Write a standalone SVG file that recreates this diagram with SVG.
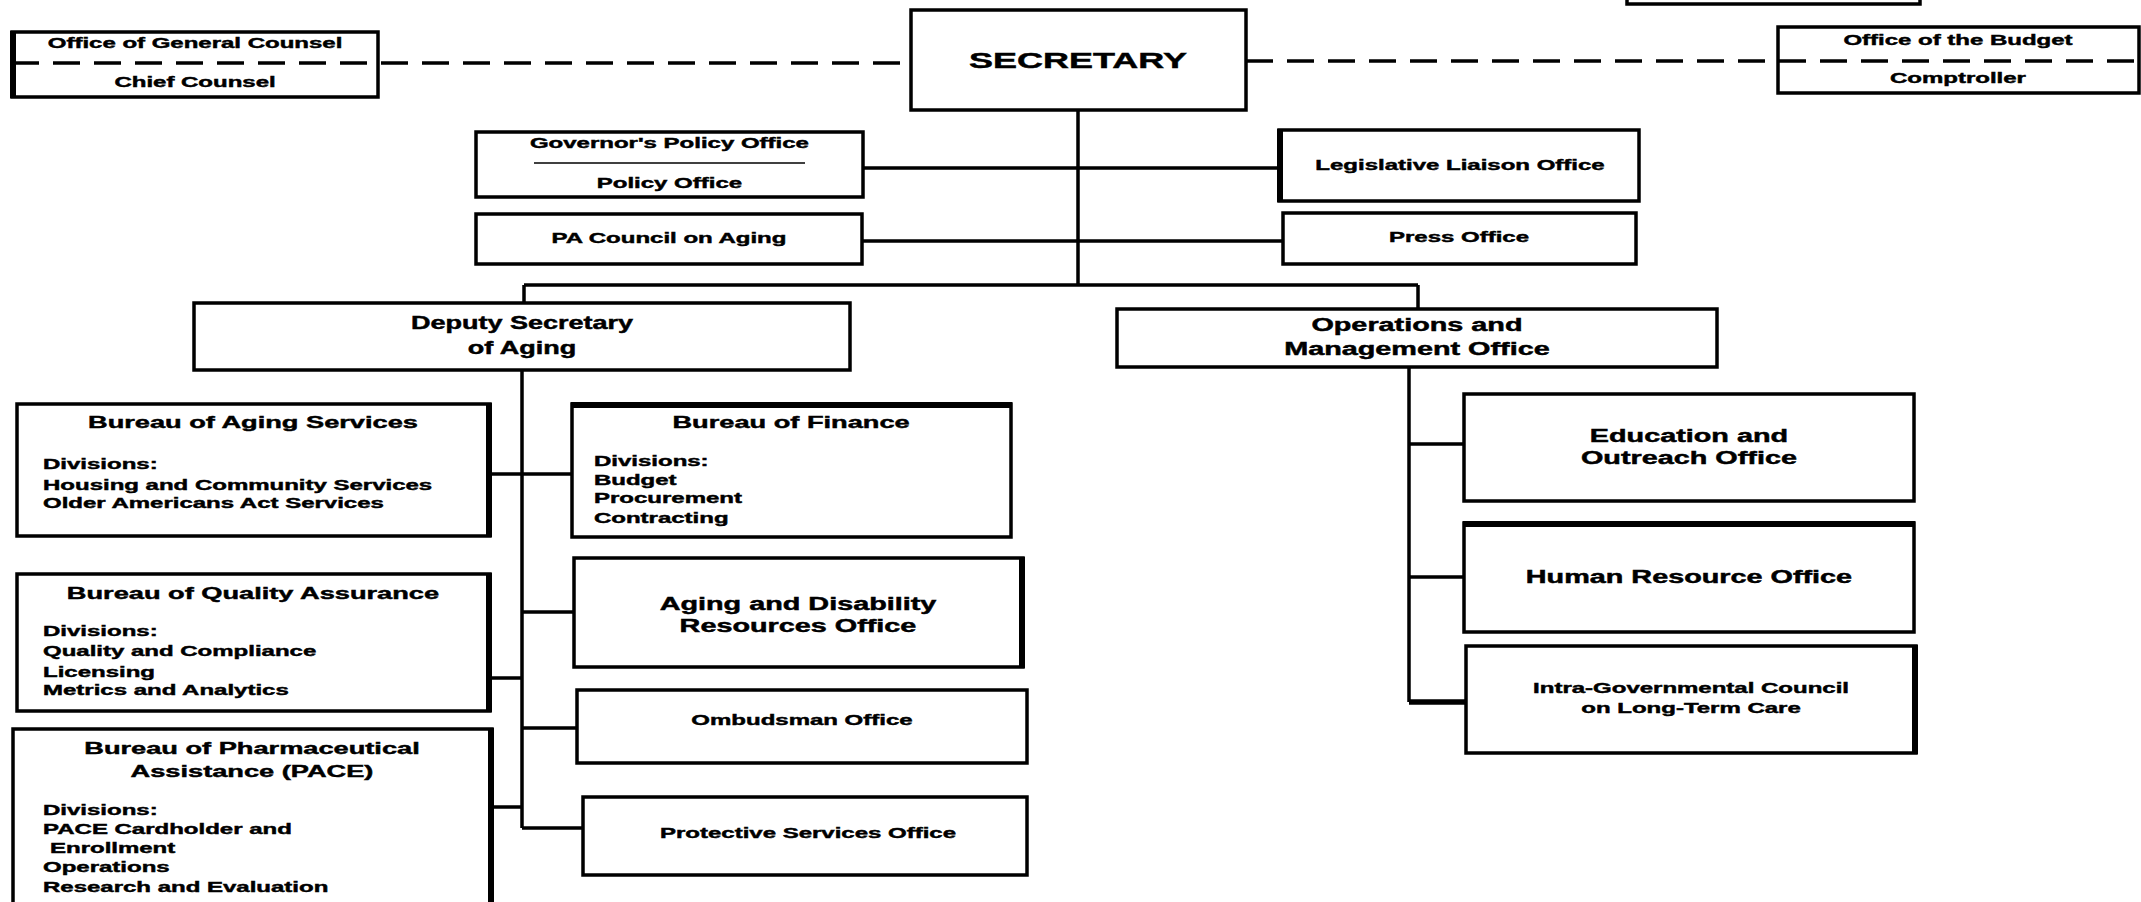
<svg xmlns="http://www.w3.org/2000/svg" width="2141" height="902" viewBox="0 0 2141 902">
<style>
.bx{fill:#fff;stroke:#000;stroke-width:3.5}
.th{fill:none;stroke:#000;stroke-width:6}
.ln{fill:none;stroke:#000;stroke-width:3.5}
.dl{fill:none;stroke:#000;stroke-width:3.5;stroke-dasharray:27 14}
text{font-family:"Liberation Sans",Arial,sans-serif;font-weight:bold;fill:#000;stroke:#000;stroke-width:0.45}
.s{font-size:15px}
.m{font-size:17px}
.l{font-size:18px}
.c{text-anchor:middle}
</style>
<rect width="2141" height="902" fill="#fff"/>
<g id="top-box"><rect class="bx" x="1627" y="-10" width="293" height="14"/></g>
<g id="general-counsel">
<rect class="bx" x="12" y="32" width="366" height="65"/>
<path class="th" d="M13 31 V98"/>
<text class="s c" transform="scale(1.6 1)" x="121.9" y="48">Office of General Counsel</text>
<text class="s c" transform="scale(1.6 1)" x="121.9" y="87">Chief Counsel</text>
</g>
<g id="secretary">
<rect class="bx" x="911" y="10" width="335" height="100"/>
<text class="c" style="font-size:22.5px" transform="scale(1.6 1)" x="673.75" y="68">SECRETARY</text>
</g>
<g id="budget">
<rect class="bx" x="1778" y="27" width="361" height="66"/>
<text class="s c" transform="scale(1.6 1)" x="1223.75" y="45">Office of the Budget</text>
<text class="s c" transform="scale(1.6 1)" x="1223.75" y="83">Comptroller</text>
</g>
<g id="governor-policy">
<rect class="bx" x="476" y="132" width="387" height="65"/>
<text class="s c" transform="scale(1.6 1)" x="418.4" y="148">Governor's Policy Office</text>
<path d="M534 163 H805" stroke="#000" stroke-width="1.3"/>
<text class="s c" transform="scale(1.6 1)" x="418.4" y="188">Policy Office</text>
</g>
<g id="legislative">
<rect class="bx" x="1279" y="130" width="360" height="71"/>
<path class="th" d="M1280 129 V202"/>
<text class="s c" transform="scale(1.6 1)" x="912.5" y="170">Legislative Liaison Office</text>
</g>
<g id="pa-council">
<rect class="bx" x="476" y="214" width="386" height="50"/>
<text class="s c" transform="scale(1.6 1)" x="418.1" y="243">PA Council on Aging</text>
</g>
<g id="press">
<rect class="bx" x="1283" y="213" width="353" height="51"/>
<text class="s c" transform="scale(1.6 1)" x="911.9" y="242">Press Office</text>
</g>
<g id="deputy">
<rect class="bx" x="194" y="303" width="656" height="67"/>
<text class="l c" transform="scale(1.5 1)" x="348" y="329">Deputy Secretary</text>
<text class="l c" transform="scale(1.5 1)" x="348" y="354">of Aging</text>
</g>
<g id="operations">
<rect class="bx" x="1117" y="309" width="600" height="58"/>
<text class="l c" transform="scale(1.6 1)" x="885.6" y="331">Operations and</text>
<text class="l c" transform="scale(1.6 1)" x="885.6" y="355">Management Office</text>
</g>
<g id="aging-services">
<rect class="bx" x="17" y="404" width="473" height="132"/>
<path class="th" d="M489 403 V537"/>
<text class="m c" transform="scale(1.6 1)" x="158.1" y="428">Bureau of Aging Services</text>
<text class="s" transform="scale(1.6 1)" x="26.9" y="469">Divisions:</text>
<text class="s" transform="scale(1.6 1)" x="26.9" y="490">Housing and Community Services</text>
<text class="s" transform="scale(1.6 1)" x="26.9" y="508">Older Americans Act Services</text>
</g>
<g id="quality-assurance">
<rect class="bx" x="17" y="574" width="473" height="137"/>
<path class="th" d="M489 573 V712"/>
<text class="m c" transform="scale(1.6 1)" x="158.1" y="599">Bureau of Quality Assurance</text>
<text class="s" transform="scale(1.6 1)" x="26.9" y="636">Divisions:</text>
<text class="s" transform="scale(1.6 1)" x="26.9" y="656">Quality and Compliance</text>
<text class="s" transform="scale(1.6 1)" x="26.9" y="677">Licensing</text>
<text class="s" transform="scale(1.6 1)" x="26.9" y="695">Metrics and Analytics</text>
</g>
<g id="pharmaceutical">
<rect class="bx" x="13" y="729" width="479" height="190"/>
<path class="th" d="M491 728 V905"/>
<text class="m c" transform="scale(1.6 1)" x="157.5" y="754">Bureau of Pharmaceutical</text>
<text class="m c" transform="scale(1.6 1)" x="157.5" y="777">Assistance (PACE)</text>
<text class="s" transform="scale(1.6 1)" x="26.9" y="815">Divisions:</text>
<text class="s" transform="scale(1.6 1)" x="26.9" y="834">PACE Cardholder and</text>
<text class="s" transform="scale(1.6 1)" x="31.25" y="853">Enrollment</text>
<text class="s" transform="scale(1.6 1)" x="26.9" y="872">Operations</text>
<text class="s" transform="scale(1.6 1)" x="26.9" y="892">Research and Evaluation</text>
</g>
<g id="finance">
<rect class="bx" x="572" y="404" width="439" height="133"/>
<path class="th" d="M571 405 H1012"/>
<text class="m c" transform="scale(1.6 1)" x="494.4" y="428">Bureau of Finance</text>
<text class="s" transform="scale(1.6 1)" x="371.25" y="466">Divisions:</text>
<text class="s" transform="scale(1.6 1)" x="371.25" y="485">Budget</text>
<text class="s" transform="scale(1.6 1)" x="371.25" y="503">Procurement</text>
<text class="s" transform="scale(1.6 1)" x="371.25" y="523">Contracting</text>
</g>
<g id="aging-disability">
<rect class="bx" x="574" y="558" width="449" height="109"/>
<path class="th" d="M1022 557 V668"/>
<text class="l c" transform="scale(1.6 1)" x="498.75" y="610">Aging and Disability</text>
<text class="l c" transform="scale(1.6 1)" x="498.75" y="632">Resources Office</text>
</g>
<g id="ombudsman">
<rect class="bx" x="577" y="690" width="450" height="73"/>
<text class="s c" transform="scale(1.6 1)" x="501.25" y="725">Ombudsman Office</text>
</g>
<g id="protective">
<rect class="bx" x="583" y="797" width="444" height="78"/>
<text class="s c" transform="scale(1.6 1)" x="505" y="838">Protective Services Office</text>
</g>
<g id="education">
<rect class="bx" x="1464" y="394" width="450" height="107"/>
<text class="l c" transform="scale(1.6 1)" x="1055.6" y="442">Education and</text>
<text class="l c" transform="scale(1.6 1)" x="1055.6" y="464">Outreach Office</text>
</g>
<g id="human-resource">
<rect class="bx" x="1464" y="523" width="450" height="109"/>
<path class="th" d="M1463 524 H1915"/>
<text class="l c" transform="scale(1.6 1)" x="1055.6" y="583">Human Resource Office</text>
</g>
<g id="intra-governmental">
<rect class="bx" x="1466" y="646" width="450" height="107"/>
<path class="th" d="M1915 645 V754"/>
<text class="s c" transform="scale(1.6 1)" x="1056.9" y="693">Intra-Governmental Council</text>
<text class="s c" transform="scale(1.6 1)" x="1056.9" y="713">on Long-Term Care</text>
</g>
<g id="connectors">
<path class="dl" d="M12 63 H911"/>
<path class="dl" d="M1246 61 H2141"/>
<path class="ln" d="M1078 110 V285 M863 168 H1279 M862 241 H1283 M524 285 H1418 M524 285 V303 M1418 285 V309"/>
<path class="ln" d="M522 370 V828 M490 474 H572 M522 612 H574 M490 678 H522 M522 728 H577 M492 807 H522 M522 828 H583"/>
<path class="ln" d="M1409 367 V702 M1409 444 H1464 M1409 577 H1464"/>
<path class="ln" style="stroke-width:5.5" d="M1409 702 H1466"/>
</g>
</svg>
